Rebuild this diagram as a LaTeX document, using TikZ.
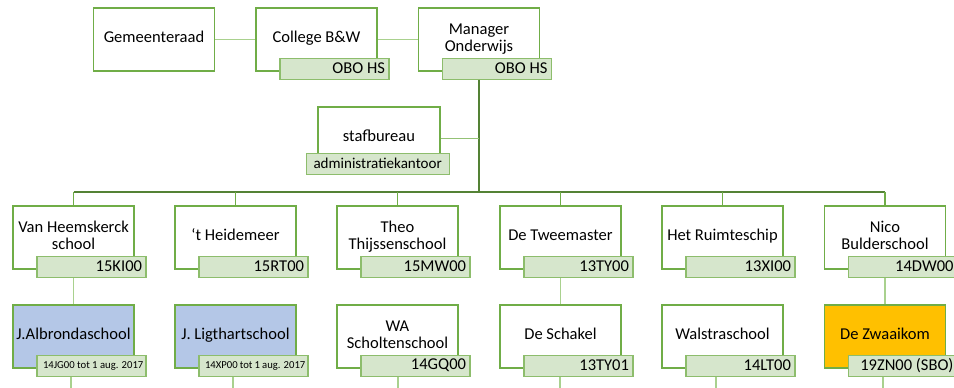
\documentclass[tikz,border=0pt]{standalone}
\usepackage{fontspec}
\setmainfont{Carlito}
\usetikzlibrary{calc}

\definecolor{boxgreen}{HTML}{70AD47}
\definecolor{darkgreen}{HTML}{548235}
\definecolor{palegreen}{HTML}{A9D18E}
\definecolor{tagfill}{HTML}{D6E6CC}
\definecolor{oldblue}{HTML}{B4C7E7}
\definecolor{sbo}{HTML}{FFC000}

% text in a box, set a little above the middle
\newcommand{\boxtxt}[1]{\raisebox{2.8pt}{\begin{tabular}{@{}c@{}}#1\end{tabular}}}

\tikzset{
  orgbox/.style={draw=boxgreen, line width=0.8pt, fill=white,
                 minimum width=90.75pt, minimum height=47.25pt,
                 inner sep=0pt, font=\fontsize{12.4}{13}\selectfont},
  tagbox/.style={draw=boxgreen!80, line width=0.8pt, fill=tagfill,
                 minimum width=81.75pt, minimum height=15.75pt,
                 inner xsep=3pt, inner ysep=0pt, text width=75.75pt,
                 align=flush right, anchor=north east,
                 font=\fontsize{12.4}{13}\selectfont},
  smalltag/.style={tagbox, inner xsep=2pt, text width=77.75pt,
                   align=flush left, font=\fontsize{8}{9}\selectfont},
  toplink/.style={palegreen, line width=1.2pt},
  trunk/.style={darkgreen, line width=1.6pt},
  branch/.style={boxgreen, line width=1pt},
  sublink/.style={palegreen, line width=1.2pt}
}

\begin{document}
\begin{tikzpicture}[x=0.75pt,y=-0.75pt]
\useasboundingbox (0,0) rectangle (954,387);

% BOXES

% bestuur
\node[orgbox] (gem) at (154,39.5)   {\boxtxt{Gemeenteraad}};
\node[orgbox] (cbw) at (316.5,39.5) {\boxtxt{College B\&W}};
\node[orgbox] (mgr) at (479,39.5)   {\boxtxt{Manager\\Onderwijs}};

% staf
\node[orgbox, minimum width=91.5pt] (staf) at (379,138.5) {\boxtxt{stafbureau}};

% scholen
\node[orgbox] (vh)  at (73.5,237.5)  {\boxtxt{Van Heemskerck\\school}};
\node[orgbox] (hm)  at (235.5,237.5) {\boxtxt{`t Heidemeer}};
\node[orgbox] (tt)  at (397.5,237.5) {\boxtxt{Theo\\Thijssenschool}};
\node[orgbox] (tw)  at (560.5,237.5) {\boxtxt{De Tweemaster}};
\node[orgbox] (rs)  at (722.5,237.5) {\boxtxt{Het Ruimteschip}};
\node[orgbox] (nb)  at (885,237.5)   {\boxtxt{Nico\\Bulderschool}};

\node[orgbox, fill=oldblue] (alb) at (73.5,336.5)  {\boxtxt{J.Albrondaschool}};
\node[orgbox, fill=oldblue] (lig) at (235.5,336.5) {\boxtxt{J. Ligthartschool}};
\node[orgbox] (was) at (397.5,336.5) {\boxtxt{WA\\Scholtenschool}};
\node[orgbox] (sch) at (560.5,336.5) {\boxtxt{De Schakel}};
\node[orgbox] (wal) at (722.5,336.5) {\boxtxt{Walstraschool}};
\node[orgbox, fill=sbo] (zwa) at (885,336.5) {\boxtxt{De Zwaaikom}};

% TAGS

\node[tagbox] (cbwT) at ([xshift=9pt,yshift=10.5pt]cbw.south east) {OBO HS};
\node[tagbox] (mgrT) at ([xshift=9pt,yshift=10.5pt]mgr.south east) {OBO HS};

\node[tagbox, anchor=north, minimum width=107.25pt, text width=101pt,
      align=center, font=\fontsize{11.3}{12}\selectfont]
      (stafT) at ([xshift=-1pt,yshift=13.5pt]staf.south) {administratiekantoor};

\node[tagbox] (vhT) at ([xshift=9pt,yshift=10.5pt]vh.south east) {15KI00};
\node[tagbox] (hmT) at ([xshift=9pt,yshift=10.5pt]hm.south east) {15RT00};
\node[tagbox] (ttT) at ([xshift=9pt,yshift=10.5pt]tt.south east) {15MW00};
\node[tagbox] (twT) at ([xshift=9pt,yshift=10.5pt]tw.south east) {13TY00};
\node[tagbox] (rsT) at ([xshift=9pt,yshift=10.5pt]rs.south east) {13XI00};
\node[tagbox] (nbT) at ([xshift=9pt,yshift=10.5pt]nb.south east) {14DW00};

\node[smalltag] (albT) at ([xshift=9pt,yshift=10.5pt]alb.south east) {\hspace*{2.5pt}14JG00 tot 1 aug. 2017};
\node[smalltag] (ligT) at ([xshift=9pt,yshift=10.5pt]lig.south east) {\hspace*{2.5pt}14XP00 tot 1 aug. 2017};
\node[tagbox] (wasT) at ([xshift=9pt,yshift=10.5pt]was.south east) {14GQ00};
\node[tagbox] (schT) at ([xshift=9pt,yshift=10.5pt]sch.south east) {13TY01};
\node[tagbox] (walT) at ([xshift=9pt,yshift=10.5pt]wal.south east) {14LT00};
\node[tagbox] (zwaT) at ([xshift=9pt,yshift=10.5pt]zwa.south east) {19ZN00 (SBO)};

% LINES

\coordinate (busL) at (73.5,192);
\coordinate (busR) at (885,192);

\draw[toplink] (gem.east) -- (cbw.west);
\draw[toplink] (cbw.east) -- (mgr.west);

\draw[trunk] (mgrT.south -| mgr.south) -- (mgr.south |- busL);
\draw[branch, boxgreen!75] (staf.east) -- (staf.east -| mgr.south);
\draw[trunk] (busL) -- (busR);

\draw[branch] (vh.north) -- (vh.north |- busL);
\draw[branch] (hm.north) -- (hm.north |- busL);
\draw[branch] (tt.north) -- (tt.north |- busL);
\draw[branch] (tw.north) -- (tw.north |- busL);
\draw[branch] (rs.north) -- (rs.north |- busL);
\draw[branch] (nb.north) -- (nb.north |- busL);

\draw[sublink] (vhT.south -| vh.south) -- (alb.north);
\draw[sublink] (twT.south -| tw.south) -- (sch.north);
\draw[sublink] (nbT.south -| nb.south) -- (zwa.north);

% lines that run on below the page
\coordinate (s1) at (71,395);
\coordinate (s2) at (233,395);
\coordinate (s3) at (398,395);
\coordinate (s4) at (560,395);
\coordinate (s5) at (716,395);
\coordinate (s6) at (883,395);
\draw[sublink] (albT.south -| s1) -- (s1);
\draw[sublink] (ligT.south -| s2) -- (s2);
\draw[sublink] (wasT.south -| s3) -- (s3);
\draw[sublink] (schT.south -| s4) -- (s4);
\draw[sublink] (walT.south -| s5) -- (s5);
\draw[sublink] (zwaT.south -| s6) -- (s6);

\end{tikzpicture}
\end{document}
